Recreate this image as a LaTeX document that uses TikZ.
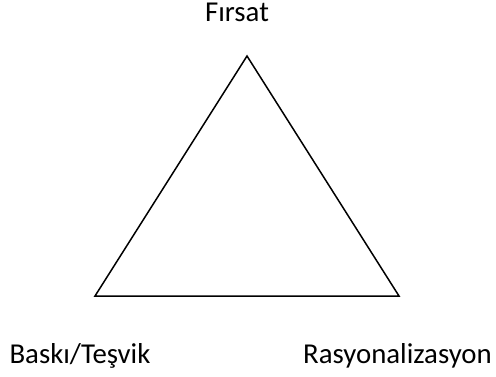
\documentclass[tikz,border=0pt]{standalone}
\usepackage{fontspec}
\setmainfont{Carlito}
\usepackage{tikz}
\usetikzlibrary{positioning, calc}

\begin{document}
\begin{tikzpicture}[x=1pt,y=-1pt,line width=1.5pt,
			corner label/.style={inner sep=0pt,anchor=base,font=\fontsize{28.8}{34}\selectfont}]
			
			\useasboundingbox (0,0) rectangle (496,376);
			
			\coordinate (top) at (247,56);
			\coordinate (left) at (95,296);
			\coordinate (right) at (399,296);
			
			\draw[line join=miter] (top) -- (left) -- (right) -- cycle;
			
			\node[corner label] (firsat) at (237,21) {Fırsat};
			\node[corner label] (baski) at (80,363) {Baskı/Teşvik};
			\node[corner label] (rasyo) at (397.5,363) {Rasyonalizasyon};
		\end{tikzpicture}
\end{document}
